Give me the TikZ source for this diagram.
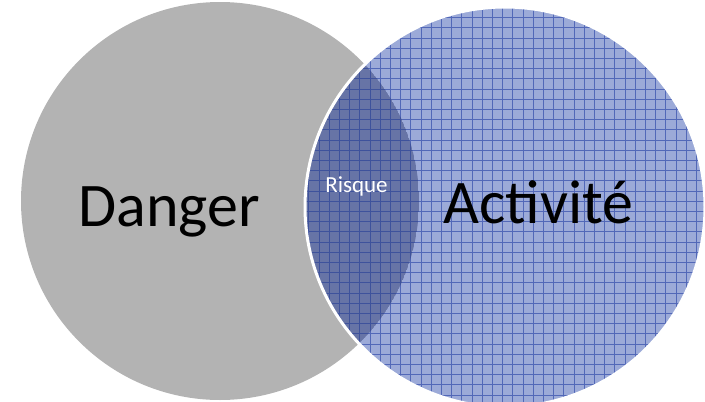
\documentclass[tikz,border=0pt]{standalone}
\usepackage{fontspec}
\setmainfont{Carlito}
\definecolor{grayFill}{RGB}{179,179,179}
\definecolor{blueFill}{RGB}{156,170,216}
\definecolor{blueDark}{RGB}{103,116,166}
\definecolor{gridBlue}{RGB}{82,104,184}
\definecolor{gridDark}{RGB}{62,82,156}
\tikzset{
  bigtext/.style={anchor=base, inner sep=0pt, text=black, font=\fontsize{62}{74}\selectfont},
  smalltext/.style={anchor=base, inner sep=0pt, text=white, font=\fontsize{23}{27}\selectfont},
  gridlines/.style={line width=0.8pt, step=10.2pt}
}
\begin{document}
\begin{tikzpicture}[x=1pt,y=-1pt]
\useasboundingbox (0,0) rectangle (705,402);
\coordinate (cg) at (220,201);
\coordinate (cb) at (505,207);
% gray circle
\fill[grayFill] (cg) circle[radius=199pt];
% blue circle with grid
\begin{scope}
  \clip (cb) circle[radius=200pt];
  \fill[blueFill] (cb) circle[radius=200pt];
  \draw[gridBlue, gridlines, shift={(2.7,7.3)}] (-20,-20) grid (720,420);
  \begin{scope}
    \clip (cg) circle[radius=199pt];
    \fill[blueDark] (cg) circle[radius=199pt];
    \draw[gridDark, gridlines, shift={(2.7,7.3)}] (-20,-20) grid (720,420);
  \end{scope}
\end{scope}
\draw[white, line width=3pt] (cb) circle[radius=200pt];
% labels
\node[bigtext] (danger) at (169,226) {Danger};
\node[bigtext] (activite) at (538.5,223) {Activité};
\node[smalltext] (risque) at (356.5,192) {Risque};
\end{tikzpicture}
\end{document}
